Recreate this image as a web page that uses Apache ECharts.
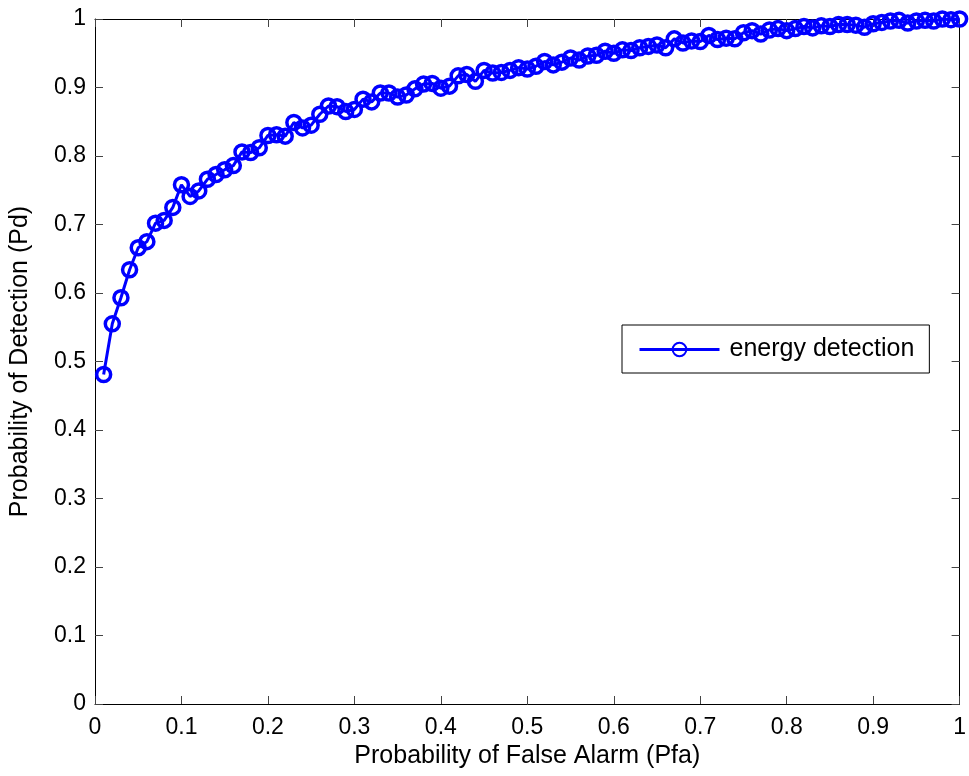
<!DOCTYPE html>
<html>
<head>
<meta charset="utf-8">
<title>ROC energy detection</title>
<script src="https://cdn.jsdelivr.net/npm/echarts@6/dist/echarts.min.js"></script>
<style>
  html, body { margin: 0; padding: 0; background: #fff; }
  #chart { width: 969px; height: 776px; }
</style>
</head>
<body>
<div id="chart"></div>
<script>
  // probability of false alarm (x)
  var pfa = [
    0.01, 0.02, 0.03, 0.04, 0.05, 0.06, 0.07, 0.08, 0.09, 0.10,
    0.11, 0.12, 0.13, 0.14, 0.15, 0.16, 0.17, 0.18, 0.19, 0.20,
    0.21, 0.22, 0.23, 0.24, 0.25, 0.26, 0.27, 0.28, 0.29, 0.30,
    0.31, 0.32, 0.33, 0.34, 0.35, 0.36, 0.37, 0.38, 0.39, 0.40,
    0.41, 0.42, 0.43, 0.44, 0.45, 0.46, 0.47, 0.48, 0.49, 0.50,
    0.51, 0.52, 0.53, 0.54, 0.55, 0.56, 0.57, 0.58, 0.59, 0.60,
    0.61, 0.62, 0.63, 0.64, 0.65, 0.66, 0.67, 0.68, 0.69, 0.70,
    0.71, 0.72, 0.73, 0.74, 0.75, 0.76, 0.77, 0.78, 0.79, 0.80,
    0.81, 0.82, 0.83, 0.84, 0.85, 0.86, 0.87, 0.88, 0.89, 0.90,
    0.91, 0.92, 0.93, 0.94, 0.95, 0.96, 0.97, 0.98, 0.99, 1.00
  ];
  // probability of detection (y)
  var pd = [
    0.481, 0.555, 0.593, 0.634, 0.666, 0.675, 0.702, 0.706, 0.725, 0.758,
    0.741, 0.749, 0.766, 0.773, 0.780, 0.786, 0.806, 0.805, 0.812, 0.830,
    0.831, 0.829, 0.849, 0.841, 0.845, 0.861, 0.873, 0.872, 0.865, 0.868,
    0.883, 0.879, 0.892, 0.892, 0.886, 0.889, 0.898, 0.905, 0.906, 0.899,
    0.902, 0.917, 0.919, 0.909, 0.925, 0.921, 0.922, 0.925, 0.929, 0.927,
    0.931, 0.938, 0.933, 0.937, 0.943, 0.940, 0.946, 0.947, 0.953, 0.950,
    0.955, 0.954, 0.958, 0.960, 0.962, 0.958, 0.971, 0.965, 0.968, 0.967,
    0.976, 0.970, 0.972, 0.971, 0.980, 0.983, 0.978, 0.984, 0.986, 0.983,
    0.986, 0.989, 0.987, 0.990, 0.989, 0.992, 0.992, 0.991, 0.988, 0.993,
    0.995, 0.997, 0.998, 0.994, 0.997, 0.998, 0.997, 1.000, 0.999, 1.000
  ];
  var seriesName = 'energy detection';
  var xTitle = 'Probability of False Alarm (Pfa)';
  var yTitle = 'Probability of Detection (Pd)';

  var FONT = '"Liberation Sans", Arial, Helvetica, sans-serif';
  var FS = 25;      // titles and legend
  var FS_TICK = 23; // tick labels
  var myChart = echarts.init(document.getElementById('chart'));

  var points = pfa.map(function (x, i) { return [x, pd[i]]; });

  function axisBase(extra) {
    var a = {
      type: 'value',
      min: 0,
      max: 1,
      interval: 0.1,
      splitLine: { show: false },
      axisLine: { show: true, onZero: false, lineStyle: { color: '#000', width: 1 } },
      axisTick: { show: true, inside: true, length: 8, lineStyle: { color: '#444' } },
      axisLabel: { show: false }
    };
    for (var k in extra) a[k] = extra[k];
    return a;
  }

  var option = {
    animation: false,
    backgroundColor: '#fff',
    textStyle: { fontFamily: FONT },
    grid: { left: 95, right: 6, top: 19, bottom: 72 },
    xAxis: [
      axisBase({
        position: 'bottom',
        name: xTitle,
        nameLocation: 'middle',
        nameGap: 40,
        nameTextStyle: { color: '#000', fontSize: FS, fontFamily: FONT },
        axisLabel: { show: true, color: '#000', fontSize: FS_TICK, margin: 12, fontFamily: FONT }
      }),
      axisBase({ position: 'top' })
    ],
    yAxis: [
      axisBase({
        position: 'left',
        name: yTitle,
        nameLocation: 'middle',
        nameGap: 62,
        nameTextStyle: { color: '#000', fontSize: FS, fontFamily: FONT },
        axisLabel: { show: true, color: '#000', fontSize: FS_TICK, margin: 9, fontFamily: FONT }
      }),
      axisBase({ position: 'right' })
    ],
    legend: {
      left: 622,
      top: 325,
      orient: 'vertical',
      padding: [12, 15, 11, 16],
      itemWidth: 80,
      itemHeight: 17,
      backgroundColor: '#fff',
      borderColor: '#000',
      borderWidth: 1,
      borderRadius: 0,
      lineStyle: { width: 3, color: '#0000ff' },
      textStyle: { color: '#000', fontSize: FS, fontFamily: FONT, padding: [2, 0, 0, 5] },
      data: [seriesName]
    },
    series: [{
      name: seriesName,
      type: 'line',
      data: points,
      clip: false,
      symbol: 'circle',
      symbolSize: 14,
      showAllSymbol: true,
      lineStyle: { color: '#0000ff', width: 3 },
      itemStyle: { color: 'rgba(0,0,255,0)', borderColor: '#0000ff', borderWidth: 3.5 }
    }]
  };

  myChart.setOption(option);
</script>
</body>
</html>
